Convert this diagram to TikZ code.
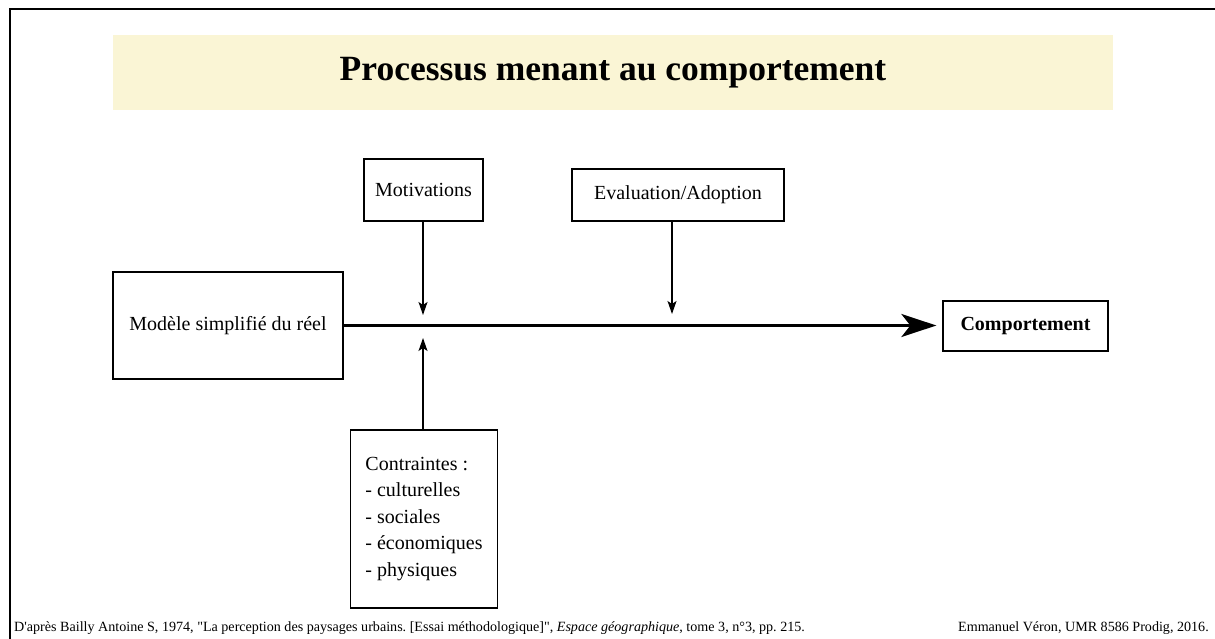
\documentclass[tikz,border=0pt]{standalone}
\usepackage{fontspec}
\setmainfont{Liberation Serif}[Ligatures=TeXOff]
\usetikzlibrary{arrows.meta}
\frenchspacing

\definecolor{bandyellow}{HTML}{FAF5D5}

\begin{document}
\begin{tikzpicture}[
  x=1pt, y=-1pt,
  font=\fontsize{20}{26.5}\selectfont,
  box/.style={draw, line width=1.3pt, align=center, inner sep=0pt},
  arr/.style={-{Stealth[length=13pt,width=9pt,inset=3pt]}, line width=1.3pt},
  mainarr/.style={-{Stealth[length=35pt,width=23pt,inset=9pt]}, line width=2.4pt},
  foot/.style={font=\fontsize{14.1}{16}\selectfont, inner sep=0pt}
]
\useasboundingbox (0,0) rectangle (1215,639);
\draw[line width=2pt] (1215,9) -- (10,9) -- (10,639);

\node[fill=bandyellow, minimum width=1000pt, minimum height=75pt,
      font=\fontsize{35.5}{40}\selectfont\bfseries] (title) at (613,72.5)
  {Processus menant au comportement};

\node[box, minimum width=230pt, minimum height=107pt] (model) at (228,325.5)
  {Modèle simplifié du réel};
\node[box, minimum width=119pt, minimum height=62pt] (motiv) at (423.5,190)
  {Motivations};
\node[box, minimum width=212pt, minimum height=52pt] (evalad) at (678,195)
  {Evaluation/Adoption};
\node[box, minimum width=165pt, minimum height=50pt, font=\fontsize{20}{24}\selectfont\bfseries]
  (comport) at (1025.5,326) {Comportement};
\node[box, minimum width=147pt, minimum height=178pt, align=left] (contr) at (424,519)
  {Contraintes :\\- culturelles\\- sociales\\- économiques\\- physiques};

\coordinate (mtip) at (423,315);
\coordinate (etip) at (672,314);
\coordinate (ctip) at (423,338);

\draw[mainarr, shorten >=6pt] (model.east) -- (model.east -| comport.west);
\draw[arr] (motiv.south -| mtip) -- (mtip);
\draw[arr] (evalad.south -| etip) -- (etip);
\draw[arr] (contr.north -| ctip) -- (ctip);

\node[foot, anchor=base west] (src) at (14,631)
  {D'après Bailly Antoine S, 1974, "La perception des paysages urbains. [Essai méthodologique]", \emph{Espace géographique}, tome 3, n°3, pp. 215.};
\node[foot, anchor=base east] (credit) at (1209,631)
  {Emmanuel Véron, UMR 8586 Prodig, 2016.};
\end{tikzpicture}
\end{document}
